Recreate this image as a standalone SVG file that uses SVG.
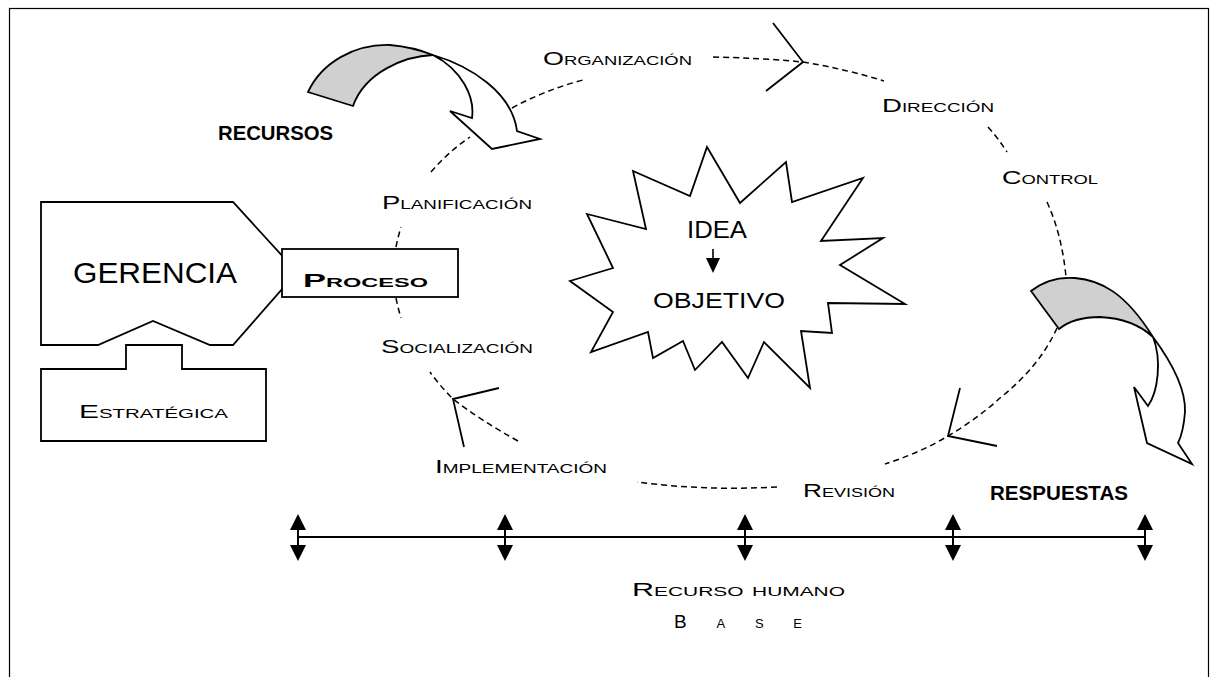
<svg xmlns="http://www.w3.org/2000/svg" width="1218" height="677" viewBox="0 0 1218 677">
<style>
.sh{fill:#fff;stroke:#000;stroke-width:1.8;stroke-linejoin:miter}
.gr{fill:#d0d0d0;stroke:#000;stroke-width:1.8}
.ds{fill:none;stroke:#000;stroke-width:1.5;stroke-dasharray:6 4}
.ch{fill:none;stroke:#000;stroke-width:1.8}
.sc{font-family:"Liberation Sans",Arial,sans-serif;font-size:19px;font-variant:small-caps;fill:#000}
.bd{font-family:"Liberation Sans",Arial,sans-serif;font-size:20px;font-weight:bold;fill:#000}
.rg{font-family:"Liberation Sans",Arial,sans-serif;fill:#000}
</style>
<defs>
<g id="dbl">
<line x1="0" y1="520" x2="0" y2="556" stroke="#000" stroke-width="2"/>
<polygon points="-8,530 8,530 0,514" fill="#000"/>
<polygon points="-8,545 8,545 0,561" fill="#000"/>
</g>
</defs>
<rect x="9.5" y="8.5" width="1199" height="700" fill="#fff" stroke="#000" stroke-width="1.2"/>

<g id="connectors">
<path class="ds" d="M431,172 Q448,152 470,137"/>
<path class="ds" d="M512,108 Q545,90 583,80"/>
<path class="ds" d="M713,57 Q760,58 803,62 Q845,69 884,81"/>
<path class="ds" d="M988,127 Q998,138 1007,152"/>
<path class="ds" d="M1047,202 Q1062,235 1066,277"/>
<path class="ds" d="M1057,328 C1045,355 1025,378 1000,398 C985,412 965,426 948,436 C928,448 907,457 885,464"/>
<path class="ds" d="M777,487 Q705,491 637,482"/>
<path class="ds" d="M518,441 Q480,420 453,399 Q440,386 430,372"/>
<path class="ds" d="M396,298 Q398,308 401,318"/>
<path class="ds" d="M396,247 Q398,237 401,227"/>
<path class="ch" d="M773,23 L803,62 L766,91"/>
<path class="ch" d="M960,388 L948,436 L997,446"/>
<path class="ch" d="M499,388 L453,399 L464,447"/>
<line x1="298" y1="537" x2="1145" y2="537" stroke="#000" stroke-width="2.2"/>
<use href="#dbl" x="298"/>
<use href="#dbl" x="505"/>
<use href="#dbl" x="745"/>
<use href="#dbl" x="953"/>
<use href="#dbl" x="1145"/>
</g>

<g id="recursos-arrow">
<path class="gr" d="M308,92 C322,62 355,44 390,45 Q413,47 433,55 C405,56 365,72 353,106 Z"/>
<path class="sh" d="M433,55 C470,66 512,92 517,131 L540,139 L492,149 L450,111 L472,118 C475,97 462,70 433,55 Z"/>
</g>
<g id="respuestas-arrow">
<path class="gr" d="M1031,291 C1045,280 1062,277 1075,278 C1100,280 1125,292 1153,337 C1140,325 1122,318 1100,317 C1085,317 1070,320 1059,329 Z"/>
<path class="sh" d="M1153,337 C1170,360 1186,388 1185,412 C1184,425 1182,435 1178,443 L1192,464 L1147,443 L1134,387 L1148,406 C1158,392 1162,360 1153,337 Z"/>
</g>

<g id="gerencia">
<polygon class="sh" points="41,202 233,202 297,272 233,345 210,345 153,321 98,345 41,345"/>
<text class="rg" x="73" y="283" font-size="30" textLength="164" lengthAdjust="spacingAndGlyphs">GERENCIA</text>
</g>
<g id="estrategica">
<polygon class="sh" points="41,369 126,369 126,345 182,345 182,369 266,369 266,441 41,441"/>
<text class="sc" x="79" y="418" textLength="149" lengthAdjust="spacingAndGlyphs">Estratégica</text>
</g>
<g id="proceso">
<rect class="sh" x="282" y="249" width="176" height="48"/>
<text class="sc" x="303" y="287" font-size="21" font-weight="bold" textLength="125" lengthAdjust="spacingAndGlyphs">Proceso</text>
</g>
<g id="idea">
<polygon class="sh" points="707,147 740,203 786,162 792,202 863,178 821,241 883,238 840,265 905,304 828,303 832,333 801,331 810,388 764,342 748,378 722,342 695,370 683,341 653,358 648,332 591,352 613,312 570,281 613,268 587,214 646,229 633,171 690,196"/>
<text class="rg" x="687" y="238" font-size="24" textLength="60" lengthAdjust="spacingAndGlyphs">IDEA</text>
<line x1="713" y1="249" x2="713" y2="260" stroke="#000" stroke-width="1.6"/>
<polygon points="706,258 720,258 713,273" fill="#000"/>
<text class="rg" x="653" y="308" font-size="22" textLength="132" lengthAdjust="spacingAndGlyphs">OBJETIVO</text>
</g>

<g id="labels">
<text class="bd" x="218" y="140" textLength="115" lengthAdjust="spacingAndGlyphs">RECURSOS</text>
<text class="bd" x="990" y="500" textLength="138" lengthAdjust="spacingAndGlyphs">RESPUESTAS</text>
<text class="sc" x="543" y="65" textLength="149" lengthAdjust="spacingAndGlyphs">Organización</text>
<text class="sc" x="882" y="112" textLength="112" lengthAdjust="spacingAndGlyphs">Dirección</text>
<text class="sc" x="1002" y="184" textLength="96" lengthAdjust="spacingAndGlyphs">Control</text>
<text class="sc" x="382" y="209" textLength="150" lengthAdjust="spacingAndGlyphs">Planificación</text>
<text class="sc" x="381" y="353" textLength="152" lengthAdjust="spacingAndGlyphs">Socialización</text>
<text class="sc" x="435" y="473" textLength="172" lengthAdjust="spacingAndGlyphs">Implementación</text>
<text class="sc" x="803" y="497" textLength="92" lengthAdjust="spacingAndGlyphs">Revisión</text>
<text class="sc" x="632" y="596" textLength="213" lengthAdjust="spacingAndGlyphs">Recurso humano</text>
<text class="sc" x="674" y="628" font-size="22" textLength="128" lengthAdjust="spacing">B a s e</text>
</g>
</svg>
